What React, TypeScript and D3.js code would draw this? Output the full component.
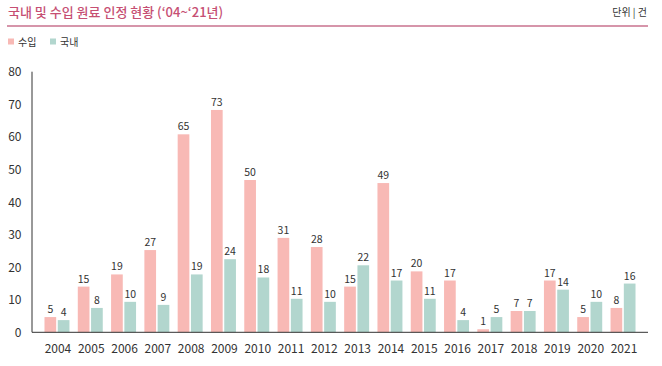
import React from "react";
import * as d3 from "d3";

const years = ["2004","2005","2006","2007","2008","2009","2010","2011","2012","2013","2014","2015","2016","2017","2018","2019","2020","2021"];
const importVals = [5,15,19,27,65,73,50,31,28,15,49,20,17,1,7,17,5,8];
const domesticVals = [4,8,10,9,19,24,18,11,10,22,17,11,4,5,7,14,10,16];
const yTicks = [0,10,20,30,40,50,60,70,80];
const seriesNames = ["수입","국내"];
const colors = ["#f8b9b5","#b2d6ce"];

const W = 662, H = 366;
const x0 = 32, x1 = 648, yBase = 332.3, yTop = 71.7;

export default function App() {
  const x = d3.scaleBand<string>().domain(years).range([x0, x1]).paddingInner(0.25).paddingOuter(0.375);
  const xi = d3.scaleBand<string>().domain(["imp","dom"]).range([0, x.bandwidth()]).paddingInner(0.12);
  const yAxis = d3.scaleLinear().domain([0, 80]).range([yBase, yTop]);
  const yBar = d3.scaleLinear().domain([0, 80 / 0.935]).range([yBase, yTop]);
  const font = "'Noto Sans CJK KR', 'Noto Sans', sans-serif";
  return (
    <svg width={W} height={H} style={{ position: "absolute", left: 0, top: 0, background: "#fff" }} fontFamily={font}>
      <text x={8} y={17} fontSize={13} fill="#c64f73" fontWeight={500}>국내 및 수입 원료 인정 현황 (‘04~‘21년)</text>
      <text x={647} y={16} fontSize={10} fill="#333" textAnchor="end">단위 | 건</text>
      <line x1={7} x2={648} y1={26} y2={26} stroke="#c9728e" strokeWidth={1.5} />
      {seriesNames.map((s, i) => (
        <g key={s} transform={`translate(${8 + i * 42},0)`}>
          <rect x={0} y={38.5} width={6} height={6} fill={colors[i]} />
          <text x={10} y={46} fontSize={10} fill="#333">{s}</text>
        </g>
      ))}
      {yTicks.map(t => (
        <text key={t} x={21.5} y={yAxis(t) + 4.5} fontSize={12} fill="#333" textAnchor="end">{t}</text>
      ))}
      <line x1={x0} x2={x0} y1={yTop} y2={yBase} stroke="#333" strokeWidth={1} />
      {years.map((yr, i) => {
        const gx = x(yr)!;
        const vals = [importVals[i], domesticVals[i]];
        return (
          <g key={yr}>
            {vals.map((v, j) => {
              const bx = gx + xi(j === 0 ? "imp" : "dom")!;
              const bw = xi.bandwidth();
              const top = yBar(v);
              return (
                <g key={j}>
                  <rect x={bx} y={top} width={bw} height={yBase - top} fill={colors[j]} />
                  <text x={bx + bw / 2} y={top - 4} fontSize={10.5} fill="#333" textAnchor="middle">{v}</text>
                </g>
              );
            })}
            <text x={gx + x.bandwidth() / 2 + 1} y={353} fontSize={12} fill="#333" textAnchor="middle">{yr}</text>
          </g>
        );
      })}
      <line x1={x0} x2={x1} y1={yBase} y2={yBase} stroke="#333" strokeWidth={1} />
    </svg>
  );
}
